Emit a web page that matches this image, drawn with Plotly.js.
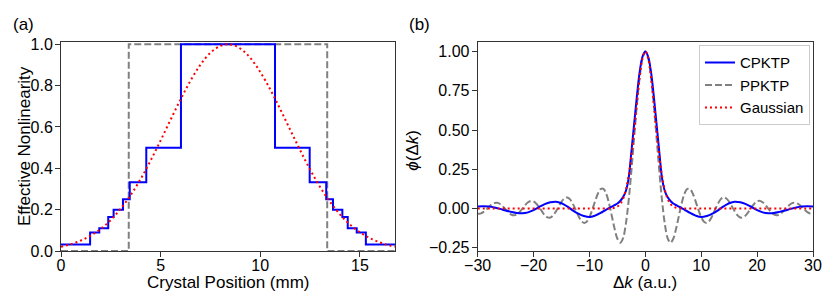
<!DOCTYPE html>
<html>
<head>
<meta charset="utf-8">
<script src="https://cdn.plot.ly/plotly-3.0.1.min.js"></script>
<style>html,body{margin:0;padding:0;background:#fff;}#chart{width:830px;height:301px;}</style>
</head>
<body>
<div id="chart"></div>
<script>
// ---------- Panel (a): poling profiles along the crystal ----------
const cpktpEdges = [0, 1.46, 1.92, 2.37, 2.64, 3.11, 3.45, 4.28, 6.02, 10.74, 12.48, 13.31, 13.65, 14.12, 14.39, 14.84, 15.30, 16.76];
const cpktpLevels = [0.031, 0.09, 0.11, 0.165, 0.2, 0.25, 0.333, 0.5, 1.0, 0.5, 0.333, 0.25, 0.2, 0.165, 0.11, 0.09, 0.031, 0.031];

const ppktpEdges = [0, 3.40, 13.36, 16.76];
const ppktpLevels = [0, 1, 0, 0];

const gaussPos = [0, 0.5, 1, 1.5, 2, 2.5, 3, 3.5, 4, 4.5, 5, 5.5, 6, 6.5, 7, 7.5, 8, 8.38,
  8.76, 9.26, 9.76, 10.26, 10.76, 11.26, 11.76, 12.26, 12.76, 13.26, 13.76, 14.26, 14.76, 15.26, 15.76, 16.26, 16.76];
const gaussProfile = [0.021, 0.033, 0.051, 0.075, 0.107, 0.150, 0.205, 0.271, 0.349, 0.438, 0.535, 0.635, 0.733, 0.824, 0.901, 0.959, 0.992, 1.0,
  0.992, 0.959, 0.901, 0.824, 0.733, 0.635, 0.535, 0.438, 0.349, 0.271, 0.205, 0.150, 0.107, 0.075, 0.051, 0.033, 0.021];

// ---------- Panel (b): phase-matching functions ----------
const dkBlue = [-30, -29, -28, -27, -26, -25, -24, -23, -22, -21, -20, -19, -18, -17, -16, -15, -14, -13, -12, -11, -10, -9, -8, -7, -6,
  -5.5, -5, -4.5, -4, -3.5, -3, -2.5, -2, -1.5, -1, -0.5, 0, 0.5, 1, 1.5, 2, 2.5, 3, 3.5, 4, 4.5, 5, 5.5,
  6, 7, 8, 9, 10, 11, 12, 13, 14, 15, 16, 17, 18, 19, 20, 21, 22, 23, 24, 25, 26, 27, 28, 29, 30];
const phiCPKTP = [0.013, 0.015, 0.013, 0.007, -0.002, -0.012, -0.021, -0.028, -0.030, -0.024, -0.010, 0.010, 0.028, 0.040, 0.044, 0.034, 0.014, -0.011, -0.032, -0.047, -0.054, -0.045, -0.028, -0.006, 0.013,
  0.022, 0.032, 0.048, 0.072, 0.11, 0.19, 0.36, 0.54, 0.72, 0.873, 0.967, 1.0, 0.967, 0.873, 0.72, 0.54, 0.36, 0.19, 0.11, 0.072, 0.048, 0.032, 0.022,
  0.013, -0.006, -0.028, -0.045, -0.054, -0.047, -0.032, -0.011, 0.014, 0.034, 0.044, 0.040, 0.028, 0.010, -0.010, -0.024, -0.030, -0.028, -0.021, -0.012, -0.002, 0.007, 0.013, 0.015, 0.013];

const dkGrey = [-30, -29.5, -29, -28.5, -28, -27.5, -27, -26.5, -26, -25.5, -25, -24.5, -24, -23.5, -23, -22.5, -22, -21.5, -21, -20.5,
  -20, -19.5, -19, -18.5, -18, -17.5, -17, -16.5, -16, -15.5, -15, -14.5, -14, -13.5, -13, -12.5, -12, -11.5, -11, -10.5,
  -10, -9.5, -9, -8.5, -8, -7.5, -7, -6.5, -6, -5.5, -5, -4.5, -4, -3.5, -3, -2.5, -2, -1.5, -1, -0.5,
  0, 0.5, 1, 1.5, 2, 2.5, 3, 3.5, 4, 4.5, 5, 5.5, 6, 6.5, 7, 7.5, 8, 8.5, 9, 9.5,
  10, 10.5, 11, 11.5, 12, 12.5, 13, 13.5, 14, 14.5, 15, 15.5, 16, 16.5, 17, 17.5, 18, 18.5, 19, 19.5,
  20, 20.5, 21, 21.5, 22, 22.5, 23, 23.5, 24, 24.5, 25, 25.5, 26, 26.5, 27, 27.5, 28, 28.5, 29, 29.5, 30];
const phiPPKTP = [-0.033, -0.032, -0.023, -0.008, 0.010, 0.026, 0.035, 0.037, 0.029, 0.014, -0.005, -0.024, -0.038, -0.043, -0.037, -0.022, 0.000, 0.022, 0.040, 0.049,
  0.046, 0.031, 0.008, -0.018, -0.042, -0.056, -0.057, -0.043, -0.018, 0.013, 0.043, 0.064, 0.071, 0.060, 0.032, -0.005, -0.045, -0.076, -0.091, -0.084,
  -0.054, -0.008, 0.046, 0.094, 0.124, 0.125, 0.094, 0.033, -0.047, -0.128, -0.192, -0.217, -0.189, -0.100, 0.047, 0.239, 0.455, 0.665, 0.841, 0.959,
  1.0, 0.959, 0.841, 0.665, 0.455, 0.239, 0.047, -0.100, -0.189, -0.217, -0.192, -0.128, -0.047, 0.033, 0.094, 0.125, 0.124, 0.094, 0.046, -0.008,
  -0.054, -0.084, -0.091, -0.076, -0.045, -0.005, 0.032, 0.060, 0.071, 0.064, 0.043, 0.013, -0.018, -0.043, -0.057, -0.056, -0.042, -0.018, 0.008, 0.031,
  0.046, 0.049, 0.040, 0.022, 0.000, -0.022, -0.037, -0.043, -0.038, -0.024, -0.005, 0.014, 0.029, 0.037, 0.035, 0.026, 0.010, -0.008, -0.023, -0.032, -0.033];

const dkRed = [-30, -25, -20, -15, -10, -7, -6.5, -6, -5.5, -5, -4.5, -4, -3.5, -3, -2.5, -2, -1.5, -1, -0.5,
  0, 0.5, 1, 1.5, 2, 2.5, 3, 3.5, 4, 4.5, 5, 5.5, 6, 6.5, 7, 10, 15, 20, 25, 30];
const phiGauss = [0, 0, 0, 0, 0, 0, 0.001, 0.002, 0.005, 0.013, 0.029, 0.061, 0.117, 0.207, 0.335, 0.496, 0.674, 0.839, 0.957,
  1.0, 0.957, 0.839, 0.674, 0.496, 0.335, 0.207, 0.117, 0.061, 0.029, 0.013, 0.005, 0.002, 0.001, 0, 0, 0, 0, 0, 0];

const seriesNames = ['CPKTP', 'PPKTP', 'Gaussian'];

const BLUE = '#0000ff', GREY = '#808080', RED = '#ff0000';
const FONT = 'Liberation Sans, Arial, Helvetica, sans-serif';

const traces = [
  // panel (a)
  {x: ppktpEdges, y: ppktpLevels, xaxis: 'x', yaxis: 'y', mode: 'lines', line: {shape: 'hv', color: GREY, width: 2, dash: '7px,3px'}, showlegend: false, hoverinfo: 'skip'},
  {x: cpktpEdges, y: cpktpLevels, xaxis: 'x', yaxis: 'y', mode: 'lines', line: {shape: 'hv', color: BLUE, width: 2}, showlegend: false, hoverinfo: 'skip'},
  {x: gaussPos, y: gaussProfile, xaxis: 'x', yaxis: 'y', mode: 'lines', line: {shape: 'spline', color: RED, width: 2, dash: '2px,3px'}, showlegend: false, hoverinfo: 'skip'},
  // panel (b)
  {x: dkGrey, y: phiPPKTP, xaxis: 'x2', yaxis: 'y2', mode: 'lines', name: seriesNames[1], legendrank: 2, line: {shape: 'spline', color: GREY, width: 2, dash: '7px,3px'}},
  {x: dkBlue, y: phiCPKTP, xaxis: 'x2', yaxis: 'y2', mode: 'lines', name: seriesNames[0], legendrank: 1, line: {shape: 'spline', color: BLUE, width: 2}},
  {x: dkRed, y: phiGauss, xaxis: 'x2', yaxis: 'y2', mode: 'lines', name: seriesNames[2], legendrank: 3, line: {shape: 'spline', color: RED, width: 2, dash: '2px,3px'}}
];

const axisCommon = {
  showline: true, mirror: true, linecolor: '#333', linewidth: 1,
  ticks: 'outside', ticklen: 5, tickwidth: 1, tickcolor: '#333',
  showgrid: false, zeroline: false,
  tickfont: {family: FONT, size: 16, color: '#000'}
};

const titleFont = {family: FONT, size: 17, color: '#000'};

const layout = {
  width: 830, height: 301,
  margin: {l: 61, r: 17, t: 42, b: 50, pad: 0},
  paper_bgcolor: '#fff', plot_bgcolor: '#fff',
  font: {family: FONT, size: 16, color: '#000'},
  xaxis: Object.assign({}, axisCommon, {
    domain: [0, 0.4441], range: [0, 16.76], tickvals: [0, 5, 10, 15], anchor: 'y', ticklabelstandoff: -5
  }),
  yaxis: Object.assign({}, axisCommon, {
    domain: [0, 1], range: [0, 1.011], tickvals: [0, 0.2, 0.4, 0.6, 0.8, 1.0], tickformat: '.1f', anchor: 'x', ticklabelstandoff: -1
  }),
  xaxis2: Object.assign({}, axisCommon, {
    domain: [0.5541, 1], range: [-30, 30], tickvals: [-30, -20, -10, 0, 10, 20, 30], anchor: 'y2', ticklabelstandoff: -5
  }),
  yaxis2: Object.assign({}, axisCommon, {
    domain: [0, 1], range: [-0.27, 1.06], tickvals: [-0.25, 0, 0.25, 0.5, 0.75, 1.0], tickformat: '.2f', anchor: 'x2', ticklabelstandoff: -1
  }),
  showlegend: true,
  legend: {
    x: 0.996, y: 0.985, xanchor: 'right', yanchor: 'top',
    bgcolor: 'rgba(255,255,255,0.8)', bordercolor: '#cccccc', borderwidth: 1,
    font: {family: FONT, size: 15, color: '#000'},
    tracegroupgap: 0
  },
  annotations: [
    {text: '(a)', xref: 'paper', yref: 'paper', x: -0.0505, y: 1.085, xanchor: 'center', yanchor: 'middle', showarrow: false, font: titleFont},
    {text: '(b)', xref: 'paper', yref: 'paper', x: 0.4767, y: 1.085, xanchor: 'center', yanchor: 'middle', showarrow: false, font: titleFont},
    {text: 'Crystal Position (mm)', xref: 'paper', yref: 'paper', x: 0.2221, y: -0.152, xanchor: 'center', yanchor: 'middle', showarrow: false, font: titleFont},
    {text: 'Δ<i>k</i> (a.u.)', xref: 'paper', yref: 'paper', x: 0.7771, y: -0.152, xanchor: 'center', yanchor: 'middle', showarrow: false, font: titleFont},
    {text: 'Effective Nonlinearity', xref: 'paper', yref: 'paper', x: -0.0485, y: 0.5, xanchor: 'center', yanchor: 'middle', textangle: -90, showarrow: false, font: titleFont},
    {text: '<i>ϕ</i>(Δ<i>k</i>)', xref: 'paper', yref: 'paper', x: 0.4681, y: 0.48, xanchor: 'center', yanchor: 'middle', textangle: -90, showarrow: false, font: titleFont}
  ]
};

Plotly.newPlot('chart', traces, layout, {staticPlot: true, displayModeBar: false});
</script>
</body>
</html>
